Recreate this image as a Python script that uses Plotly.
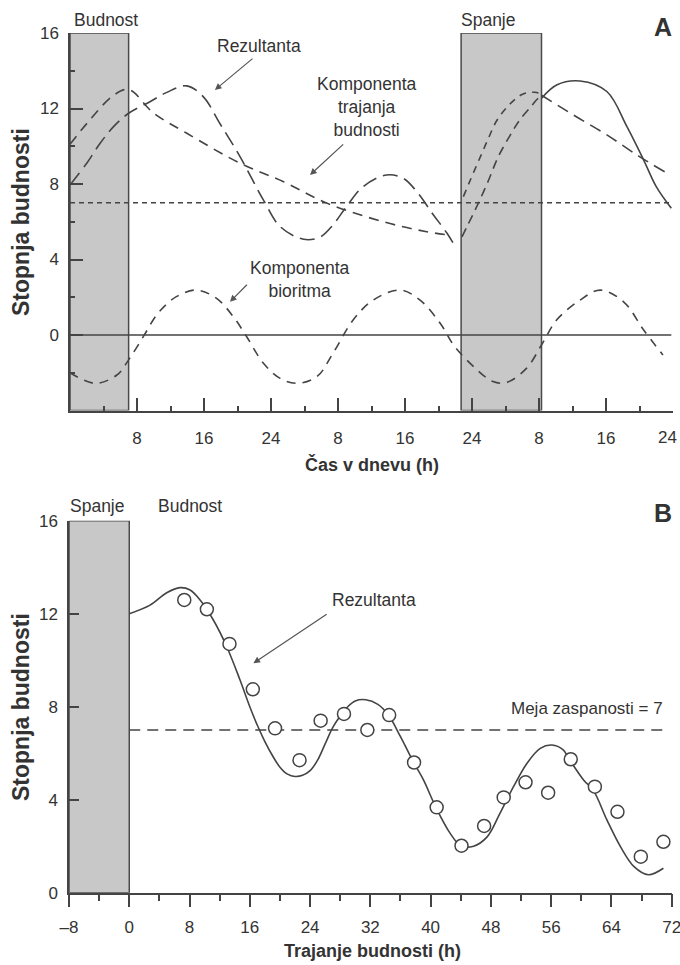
import plotly.graph_objects as go

W, H = 680, 965
LINE = "#444444"
TXT = "#333333"
FONT = "Liberation Sans, Arial, sans-serif"

# ---------------- Panel A data (t = hours from start, v = stopnja budnosti) ----------------
res_a_t = [0, 2, 3.6, 5.2, 7, 9.55, 11.5, 13.9, 15.9, 17.9, 20.3, 23.1, 25.1, 27.9, 29.9,
           31.4, 33, 35, 37.8, 39.8, 41.4, 43.4, 45, 46]
res_a_v = [7.95, 9.1, 10.16, 11.04, 11.75, 12.36, 12.84, 13.2, 12.63, 11.2, 9.45, 7.15, 5.74,
           5.07, 5.2, 5.83, 6.8, 7.86, 8.48, 8.3, 7.6, 6.36, 5.4, 4.68]

res_sleep_t = [46.8, 47.4, 48.75, 49.95, 51.1, 52.5, 53.7, 55.1, 55.9, 56.3]
res_sleep_v = [5.2, 5.74, 6.98, 8.17, 9.41, 10.54, 11.39, 12.13, 12.54, 12.6]

res_after_t = [56.3, 58.1, 60.9, 64.1, 66.5, 68.5, 70, 71.8]
res_after_v = [12.54, 13.25, 13.46, 12.9, 11.04, 9.27, 7.86, 6.71]

hom_a_t = [0, 2, 5.2, 7, 10, 13.9, 20.3, 25.5, 30.6, 37.4, 42.6, 45.2]
hom_a_v = [10.1, 11.2, 12.7, 13.0, 11.75, 10.7, 9.1, 8.12, 7.0, 6.0, 5.47, 5.3]

hom_sleep_t = [46.97, 47.84, 48.87, 49.87, 51.0, 52.7, 54.1, 55.5, 56.3]
hom_sleep_v = [7.33, 8.25, 9.31, 10.33, 11.39, 12.31, 12.77, 12.86, 12.75]

hom_after_t = [56.3, 60.1, 64.1, 68, 71]
hom_after_v = [12.7, 11.66, 10.6, 9.45, 8.65]

bio_t = [0, 3, 5.6, 7, 8.75, 10.5, 12.7, 15.1, 17.5, 19.5, 21.1, 23.1, 25.1, 27.1, 29.5,
         31.4, 33.8, 36.2, 39.4, 41.8, 44.2, 45.8, 48.2, 50.5, 52.1, 54.5, 56.3, 58.1,
         60.9, 63.3, 66.1, 68.5, 70.8]
bio_v = [-2.0, -2.56, -2.12, -1.32, -0.09, 1.15, 2.03, 2.38, 1.94, 0.97, -0.09, -1.5, -2.3,
         -2.56, -2.2, -0.97, 0.79, 1.85, 2.38, 1.85, 0.62, -0.53, -1.68, -2.47, -2.52,
         -1.77, -0.53, 0.79, 1.85, 2.38, 1.76, 0.26, -1.06]

thr_a_t = [0, 71.8]
thr_a_v = [7, 7]
zero_a_t = [0, 71.8]
zero_a_v = [0, 0]

sleep_a = [(0, 7), (46.7, 56.3)]          # shaded intervals, panel A
a_tick_vals = [8, 16, 24, 32, 40, 48, 56, 64, 72]
a_tick_text = ["8", "16", "24", "8", "16", "24", "8", "16", ""]
a_last_label = "24"                        # drawn separately so it stays inside the page
a_minor_vals = [4, 12, 20, 28, 36, 44, 52, 60, 68]
a_ytick_vals = [0, 4, 8, 12, 16]
a_yminor_vals = [-2, 2, 6, 10, 14]

# ---------------- Panel B data ----------------
res_b_t = [0, 2.76, 4.97, 6.74, 8.07, 9.4, 11.16, 12.94, 14.7, 16, 17, 18, 19, 20, 21, 22,
           23, 24, 25, 26, 27, 28, 29, 30, 31.4, 33, 34.4, 36, 37.7, 39.05, 40.7, 42.6,
           44, 45.7, 47.5, 49.2, 51, 52.8, 54.55, 56.1, 57.6, 58.4, 60.3, 61.6, 63.4,
           65.2, 67, 68.9, 70.9]
res_b_v = [12.0, 12.37, 12.9, 13.12, 13.02, 12.59, 11.73, 10.58, 9.15, 8.0, 7.2, 6.5, 5.9,
           5.4, 5.1, 5.0, 5.05, 5.25, 5.7, 6.4, 7.1, 7.6, 8.0, 8.25, 8.3, 8.1, 7.64, 6.71,
           5.63, 4.85, 3.67, 2.55, 2.02, 2.0, 2.4, 3.41, 4.56, 5.57, 6.21, 6.35, 6.14,
           5.74, 4.85, 4.4, 3.13, 1.98, 1.12, 0.77, 1.05]

obs_b_t = [7.3, 10.3, 13.3, 16.4, 19.35, 22.6, 25.4, 28.5, 31.6, 34.5, 37.8, 40.8, 44.1,
           47.1, 49.7, 52.6, 55.6, 58.6, 61.8, 64.8, 67.9, 70.9]
obs_b_v = [12.59, 12.19, 10.7, 8.75, 7.07, 5.7, 7.4, 7.69, 7.0, 7.64, 5.6, 3.67, 2.02,
           2.87, 4.1, 4.75, 4.3, 5.74, 4.56, 3.48, 1.55, 2.19]

thr_b_t = [0, 71]
thr_b_v = [7, 7]
sleep_b = [(-8, 0)]
b_tick_vals = [-8, 0, 8, 16, 24, 32, 40, 48, 56, 64, 72]
b_tick_text = ["–8", "0", "8", "16", "24", "32", "40", "48", "56", "64", "72"]
b_minor_vals = [-4, 4, 12, 20, 28, 36, 44, 52, 60, 68]
b_ytick_vals = [0, 4, 8, 12, 16]

# ---------------- figure ----------------
fig = go.Figure()


def add_line(x, y, xa, ya, dash="solid", width=1.6):
    fig.add_trace(go.Scatter(x=x, y=y, mode="lines", xaxis=xa, yaxis=ya,
                             line=dict(color=LINE, width=width, dash=dash, shape="spline",
                                       smoothing=1.0),
                             hoverinfo="skip", showlegend=False))


# panel A
add_line(zero_a_t, zero_a_v, "x", "y", "solid", 1.5)
add_line(thr_a_t, thr_a_v, "x", "y", "5px,4px", 1.5)
add_line(bio_t, bio_v, "x", "y", "9px,7px")
add_line(hom_a_t, hom_a_v, "x", "y", "10px,7px")
add_line(hom_sleep_t, hom_sleep_v, "x", "y", "7px,6px")
add_line(hom_after_t, hom_after_v, "x", "y", "12px,7px")
add_line(res_a_t, res_a_v, "x", "y", "15px,7px")
add_line(res_sleep_t, res_sleep_v, "x", "y", "9px,6px")
add_line(res_after_t, res_after_v, "x", "y", "solid")

# panel B
add_line(thr_b_t, thr_b_v, "x2", "y2", "11px,7px", 1.5)
add_line(res_b_t, res_b_v, "x2", "y2", "solid")
fig.add_trace(go.Scatter(x=obs_b_t, y=obs_b_v, mode="markers", xaxis="x2", yaxis="y2",
                         marker=dict(symbol="circle", size=13, color="white",
                                     line=dict(color=LINE, width=1.5)),
                         hoverinfo="skip", showlegend=False))

shapes = []
for x0, x1 in sleep_a:
    shapes.append(dict(type="rect", xref="x", yref="y", x0=x0, x1=x1, y0=-4, y1=16,
                       fillcolor="#c8c8c8", line=dict(color="#4a4a4a", width=1.5),
                       layer="below"))
for x0, x1 in sleep_b:
    shapes.append(dict(type="rect", xref="x2", yref="y2", x0=x0, x1=x1, y0=0, y1=16,
                       fillcolor="#c8c8c8", line=dict(color="#4a4a4a", width=1.5),
                       layer="below"))


def PX(x):
    return x / W


def PY(y):
    return 1 - y / H


def label(x, y, text, size=17.5, bold=False, xanchor="center", angle=0):
    return dict(xref="paper", yref="paper", x=PX(x), y=PY(y), text=text, showarrow=False,
                xanchor=xanchor, yanchor="middle", textangle=angle,
                font=dict(family=FONT, size=size, color=TXT,
                          weight="bold" if bold else "normal"))


def arrow(xa, ya, tail, head):
    return dict(xref=xa, yref=ya, axref=xa, ayref=ya, x=head[0], y=head[1],
                ax=tail[0], ay=tail[1], text="", showarrow=True, arrowhead=2,
                arrowsize=1.1, arrowwidth=1.2, arrowcolor="#555555", standoff=0)


annotations = [
    label(106, 20, "Budnost"),
    label(488, 20, "Spanje"),
    label(663, 27, "A", size=25, bold=True),
    label(259, 46, "Rezultanta"),
    label(367, 107, "Komponenta<br>trajanja<br>budnosti"),
    label(300, 280, "Komponenta<br>bioritma"),
    label(21, 222, "Stopnja budnosti", size=23, bold=True, angle=-90),
    label(372, 465, "Čas v dnevu (h)", size=18, bold=True),
    label(679, 438, a_last_label, size=17, xanchor="right"),
    label(98, 506, "Spanje"),
    label(190, 506, "Budnost"),
    label(663, 513, "B", size=25, bold=True),
    label(374, 600, "Rezultanta"),
    label(665, 708, "Meja zaspanosti = 7", size=17, xanchor="right"),
    label(21, 707, "Stopnja budnosti", size=23, bold=True, angle=-90),
    label(372, 951, "Trajanje budnosti (h)", size=18, bold=True),
    arrow("x", "y", (21.97, 14.71), (17.3, 12.98)),
    arrow("x", "y", (32.8, 10.17), (28.66, 8.48)),
    arrow("x", "y", (21.3, 2.74), (19.1, 1.76)),
    arrow("x2", "y2", (26.4, 12.02), (16.48, 9.87)),
]

axis_common = dict(showgrid=False, zeroline=False, showline=True, linecolor="#444444",
                   linewidth=1.5, tickcolor="#444444", tickwidth=1.5, automargin=False,
                   ticklabeloverflow="allow",
                   tickfont=dict(family=FONT, size=17, color=TXT))

fig.update_layout(
    width=W, height=H, autosize=False,
    margin=dict(l=0, r=0, t=0, b=0, pad=0, autoexpand=False),
    paper_bgcolor="white", plot_bgcolor="white",
    showlegend=False,
    shapes=shapes, annotations=annotations,
    xaxis=dict(domain=[PX(70), PX(673)], range=[0, 72], anchor="y",
               tickmode="array", tickvals=a_tick_vals, ticktext=a_tick_text,
               ticks="inside", ticklen=13, ticklabelstandoff=11,
               minor=dict(tickmode="array", tickvals=a_minor_vals, ticks="inside",
                          ticklen=5, tickwidth=1.5, tickcolor="#444444"),
               **axis_common),
    yaxis=dict(domain=[PY(410.5), PY(33)], range=[-4, 16], anchor="x",
               tickmode="array", tickvals=a_ytick_vals,
               ticks="inside", ticklen=13, ticklabelstandoff=6,
               minor=dict(tickmode="array", tickvals=a_yminor_vals, ticks="inside",
                          ticklen=5, tickwidth=1.5, tickcolor="#444444"),
               **axis_common),
    xaxis2=dict(domain=[PX(69), PX(671.7)], range=[-8, 72], anchor="y2",
                tickmode="array", tickvals=b_tick_vals, ticktext=b_tick_text,
                ticks="outside", ticklen=13, ticklabelstandoff=5,
                minor=dict(tickmode="array", tickvals=b_minor_vals, ticks="outside",
                           ticklen=7, tickwidth=1.5, tickcolor="#444444"),
                **axis_common),
    yaxis2=dict(domain=[PY(892.7), PY(520.7)], range=[0, 16], anchor="x2",
                tickmode="array", tickvals=b_ytick_vals,
                ticks="inside", ticklen=10, ticklabelstandoff=6,
                **axis_common),
)

fig.write_html("out.html")
